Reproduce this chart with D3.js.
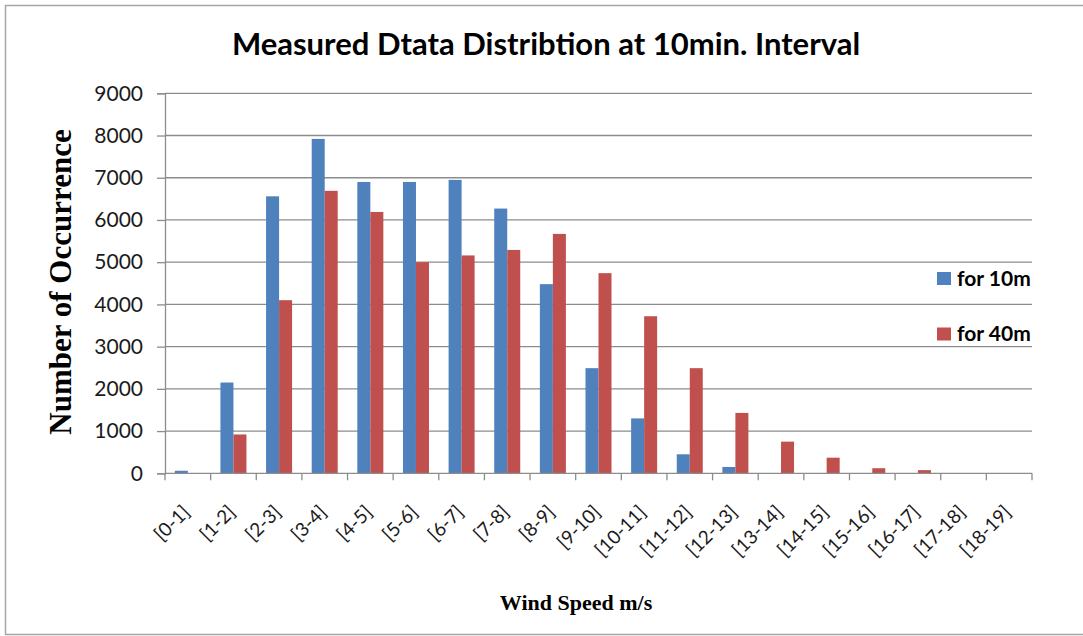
<!DOCTYPE html>
<html>
<head>
<meta charset="utf-8">
<script src="https://cdn.jsdelivr.net/npm/d3@7"></script>
<style>
  html, body { margin: 0; padding: 0; background: #fff; }
  svg { display: block; }
</style>
</head>
<body>
<svg id="chart" width="1083" height="636"></svg>
<script>
// Wind speed bins (m/s)
const categories = ["[0-1]", "[1-2]", "[2-3]", "[3-4]", "[4-5]", "[5-6]", "[6-7]", "[7-8]", "[8-9]", "[9-10]",
  "[10-11]", "[11-12]", "[12-13]", "[13-14]", "[14-15]", "[15-16]", "[16-17]", "[17-18]", "[18-19]"];

// Occurrence counts per bin at each measuring height
const seriesNames = ["for 10m", "for 40m"];
const values10m = [60, 2150, 6560, 7920, 6900, 6900, 6950, 6270, 4480, 2490, 1300, 450, 150, 0, 0, 0, 0, 0, 0];
const values40m = [0, 920, 4100, 6690, 6190, 5000, 5160, 5290, 5670, 4740, 3720, 2490, 1430, 750, 370, 120, 75, 0, 0];
const seriesColors = ["#4F81BD", "#C0504D"];

const yTicks = [0, 1000, 2000, 3000, 4000, 5000, 6000, 7000, 8000, 9000];

const svg = d3.select("#chart");
const plot = { left: 165, right: 1032, top: 93.3, bottom: 473.3 };

// outer frame
svg.append("rect")
  .attr("x", 5.5).attr("y", 5.5)
  .attr("width", 1100).attr("height", 629)
  .attr("fill", "#fff").attr("stroke", "#a6a6a6").attr("stroke-width", 1.5);

const x0 = d3.scaleBand().domain(categories)
  .range([plot.left, plot.right])
  .paddingInner(0.43).paddingOuter(0.215);
const x1 = d3.scaleBand().domain(seriesNames).range([0, x0.bandwidth()]);
const y = d3.scaleLinear().domain([0, 9000]).range([plot.bottom, plot.top]);

// horizontal gridlines
svg.append("g").selectAll("line").data(yTicks.filter(d => d > 0)).join("line")
  .attr("x1", plot.left).attr("x2", plot.right)
  .attr("y1", d => y(d)).attr("y2", d => y(d))
  .attr("stroke", "#8c8c8c").attr("stroke-width", 1.3);

// bars
const rows = categories.map((c, i) => ({ cat: c, vals: [values10m[i], values40m[i]] }));
const groups = svg.append("g").selectAll("g").data(rows).join("g")
  .attr("transform", d => `translate(${x0(d.cat)},0)`);
groups.selectAll("rect").data(d => d.vals.map((v, k) => ({ name: seriesNames[k], v, k })))
  .join("rect")
  .attr("x", d => x1(d.name))
  .attr("width", x1.bandwidth())
  .attr("y", d => y(d.v))
  .attr("height", d => y(0) - y(d.v))
  .attr("fill", d => seriesColors[d.k]);

// y axis
const yAxis = d3.axisLeft(y).tickValues(yTicks).tickSize(8).tickPadding(14).tickFormat(d3.format("d"));
const gy = svg.append("g").attr("transform", `translate(${plot.left},0)`).call(yAxis);
gy.select(".domain").attr("stroke", "#8c8c8c").attr("stroke-width", 1.3);
gy.selectAll(".tick line").attr("stroke", "#8c8c8c").attr("stroke-width", 1.3);
gy.selectAll(".tick text")
  .attr("font-family", "Lato, 'Open Sans', sans-serif")
  .attr("font-size", 21).attr("fill", "#1a1a1a");

// x axis: baseline and ticks on bin boundaries
const step = x0.step();
const boundaries = d3.range(categories.length + 1).map(i => plot.left + i * step);
svg.append("line")
  .attr("x1", plot.left).attr("x2", plot.right)
  .attr("y1", plot.bottom).attr("y2", plot.bottom)
  .attr("stroke", "#8c8c8c").attr("stroke-width", 1.3);
svg.append("g").selectAll("line").data(boundaries).join("line")
  .attr("x1", d => d).attr("x2", d => d)
  .attr("y1", plot.bottom).attr("y2", plot.bottom + 7)
  .attr("stroke", "#8c8c8c").attr("stroke-width", 1.3);

// rotated category labels
svg.append("g").selectAll("text").data(categories).join("text")
  .attr("transform", d => `translate(${x0(d) + x0.bandwidth() / 2 + 3},${plot.bottom + 40}) rotate(-45)`)
  .attr("text-anchor", "end")
  .attr("font-family", "Lato, 'Open Sans', sans-serif")
  .attr("font-size", 19).attr("fill", "#1a1a1a")
  .text(d => d);

// chart title
svg.append("text")
  .attr("x", 546).attr("y", 55)
  .attr("text-anchor", "middle")
  .attr("font-family", "Lato, 'Open Sans', sans-serif")
  .attr("font-weight", "bold").attr("font-size", 31).attr("fill", "#000")
  .text("Measured Dtata Distribtion at 10min. Interval");

// axis titles
svg.append("text")
  .attr("transform", "translate(71,282) rotate(-90)")
  .attr("text-anchor", "middle")
  .attr("font-family", "'Liberation Serif', 'DejaVu Serif', serif")
  .attr("font-weight", "bold").attr("font-size", 31).attr("fill", "#000")
  .text("Number of Occurrence");

svg.append("text")
  .attr("x", 576).attr("y", 610)
  .attr("text-anchor", "middle")
  .attr("font-family", "'Liberation Serif', 'DejaVu Serif', serif")
  .attr("font-weight", "bold").attr("font-size", 22).attr("fill", "#000")
  .text("Wind Speed m/s");

// legend
const legend = svg.append("g").selectAll("g").data(seriesNames).join("g")
  .attr("transform", (d, i) => `translate(937,${272 + i * 55.5})`);
legend.append("rect").attr("width", 14).attr("height", 13)
  .attr("fill", (d, i) => seriesColors[i]);
legend.append("text")
  .attr("x", 20).attr("y", 13.5)
  .attr("font-family", "Lato, 'Open Sans', sans-serif")
  .attr("font-weight", "bold").attr("font-size", 21).attr("fill", "#000")
  .text(d => d);
</script>
</body>
</html>
